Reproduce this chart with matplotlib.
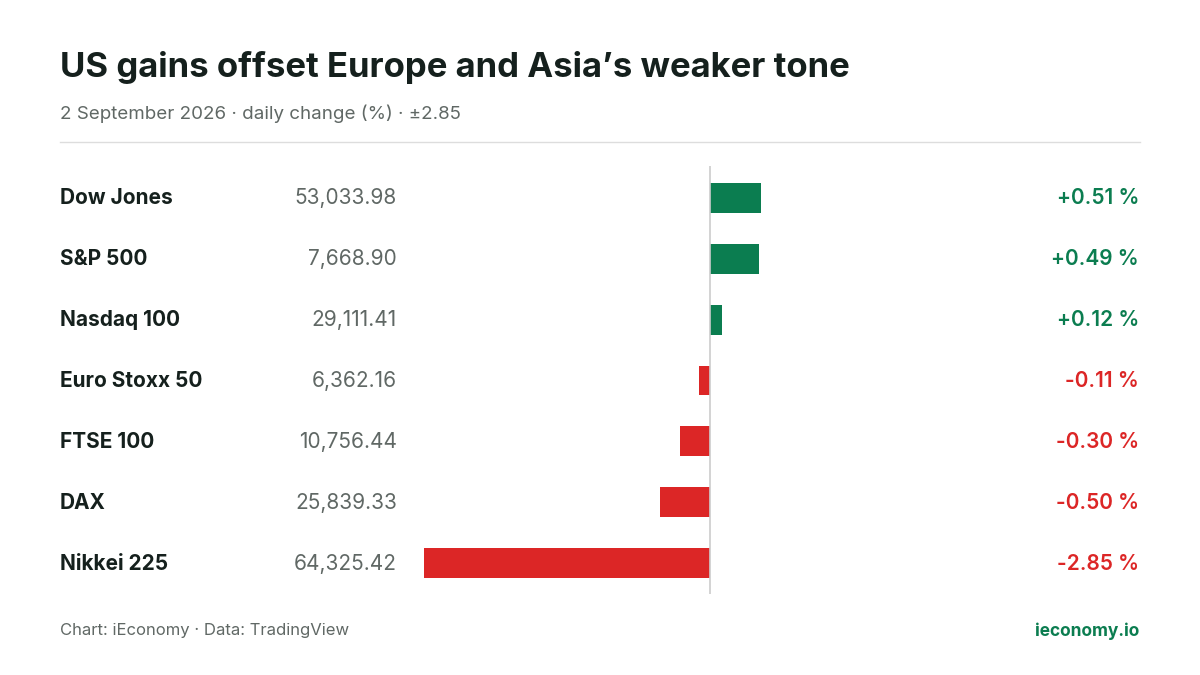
import matplotlib
matplotlib.use('Agg')
import matplotlib.pyplot as plt

names = ['Dow Jones', 'S&P 500', 'Nasdaq 100', 'Euro Stoxx 50', 'FTSE 100', 'DAX', 'Nikkei 225']
levels = ['53,033.98', '7,668.90', '29,111.41', '6,362.16', '10,756.44', '25,839.33', '64,325.42']
changes = [0.51, 0.49, 0.12, -0.11, -0.30, -0.50, -2.85]

GREEN = '#0b7d50'
RED = '#dc2626'
DARK = '#15201d'
GRAY = '#606865'
plt.rcParams['font.family'] = ['Inter', 'DejaVu Sans']

W, H = 1200, 675
fig = plt.figure(figsize=(12, 6.75), dpi=100)
fig.patch.set_facecolor('white')

def px(x, y):
    return x / W, 1 - y / H

fig.text(*px(60, 68), 'US gains offset Europe and Asia\u2019s weaker tone', fontsize=25,
         fontweight='bold', color=DARK, va='center')
fig.text(*px(60, 114), '2 September 2026 \u00b7 daily change (%) \u00b7 \u00b12.85', fontsize=13.5,
         color=GRAY, va='center')
fig.add_artist(plt.Line2D([60 / W, 1140 / W], [1 - 142 / H] * 2, color='#dddddd', lw=1))

row0, step = 198, 61
ax = fig.add_axes([424 / W, 1 - 594 / H, 572 / W, 428 / H])
ax.set_xlim(-2.85, 2.85)
ax.set_ylim(6 + 31 / step, -32 / step)
ax.axis('off')
for i, c in enumerate(changes):
    col = GREEN if c >= 0 else RED
    ax.barh(i, c, height=30 / step, color=col)
    y = row0 + step * i
    fig.text(*px(60, y), names[i], fontsize=15, fontweight='bold', color=DARK, va='center')
    fig.text(*px(397, y), levels[i], fontsize=15, color=GRAY, va='center', ha='right')
    fig.text(*px(1139, y), f'{c:+.2f} %', fontsize=15, fontweight='semibold', color=col,
             va='center', ha='right')
ax.axvline(0, color='#cccccc', lw=1.2)

fig.text(*px(60, 631), 'Chart: iEconomy \u00b7 Data: TradingView', fontsize=12, color=GRAY, va='center')
fig.text(*px(1139, 631), 'ieconomy.io', fontsize=12.5, fontweight='bold', color=GREEN,
         va='center', ha='right')

fig.savefig('out.png', dpi=100)
